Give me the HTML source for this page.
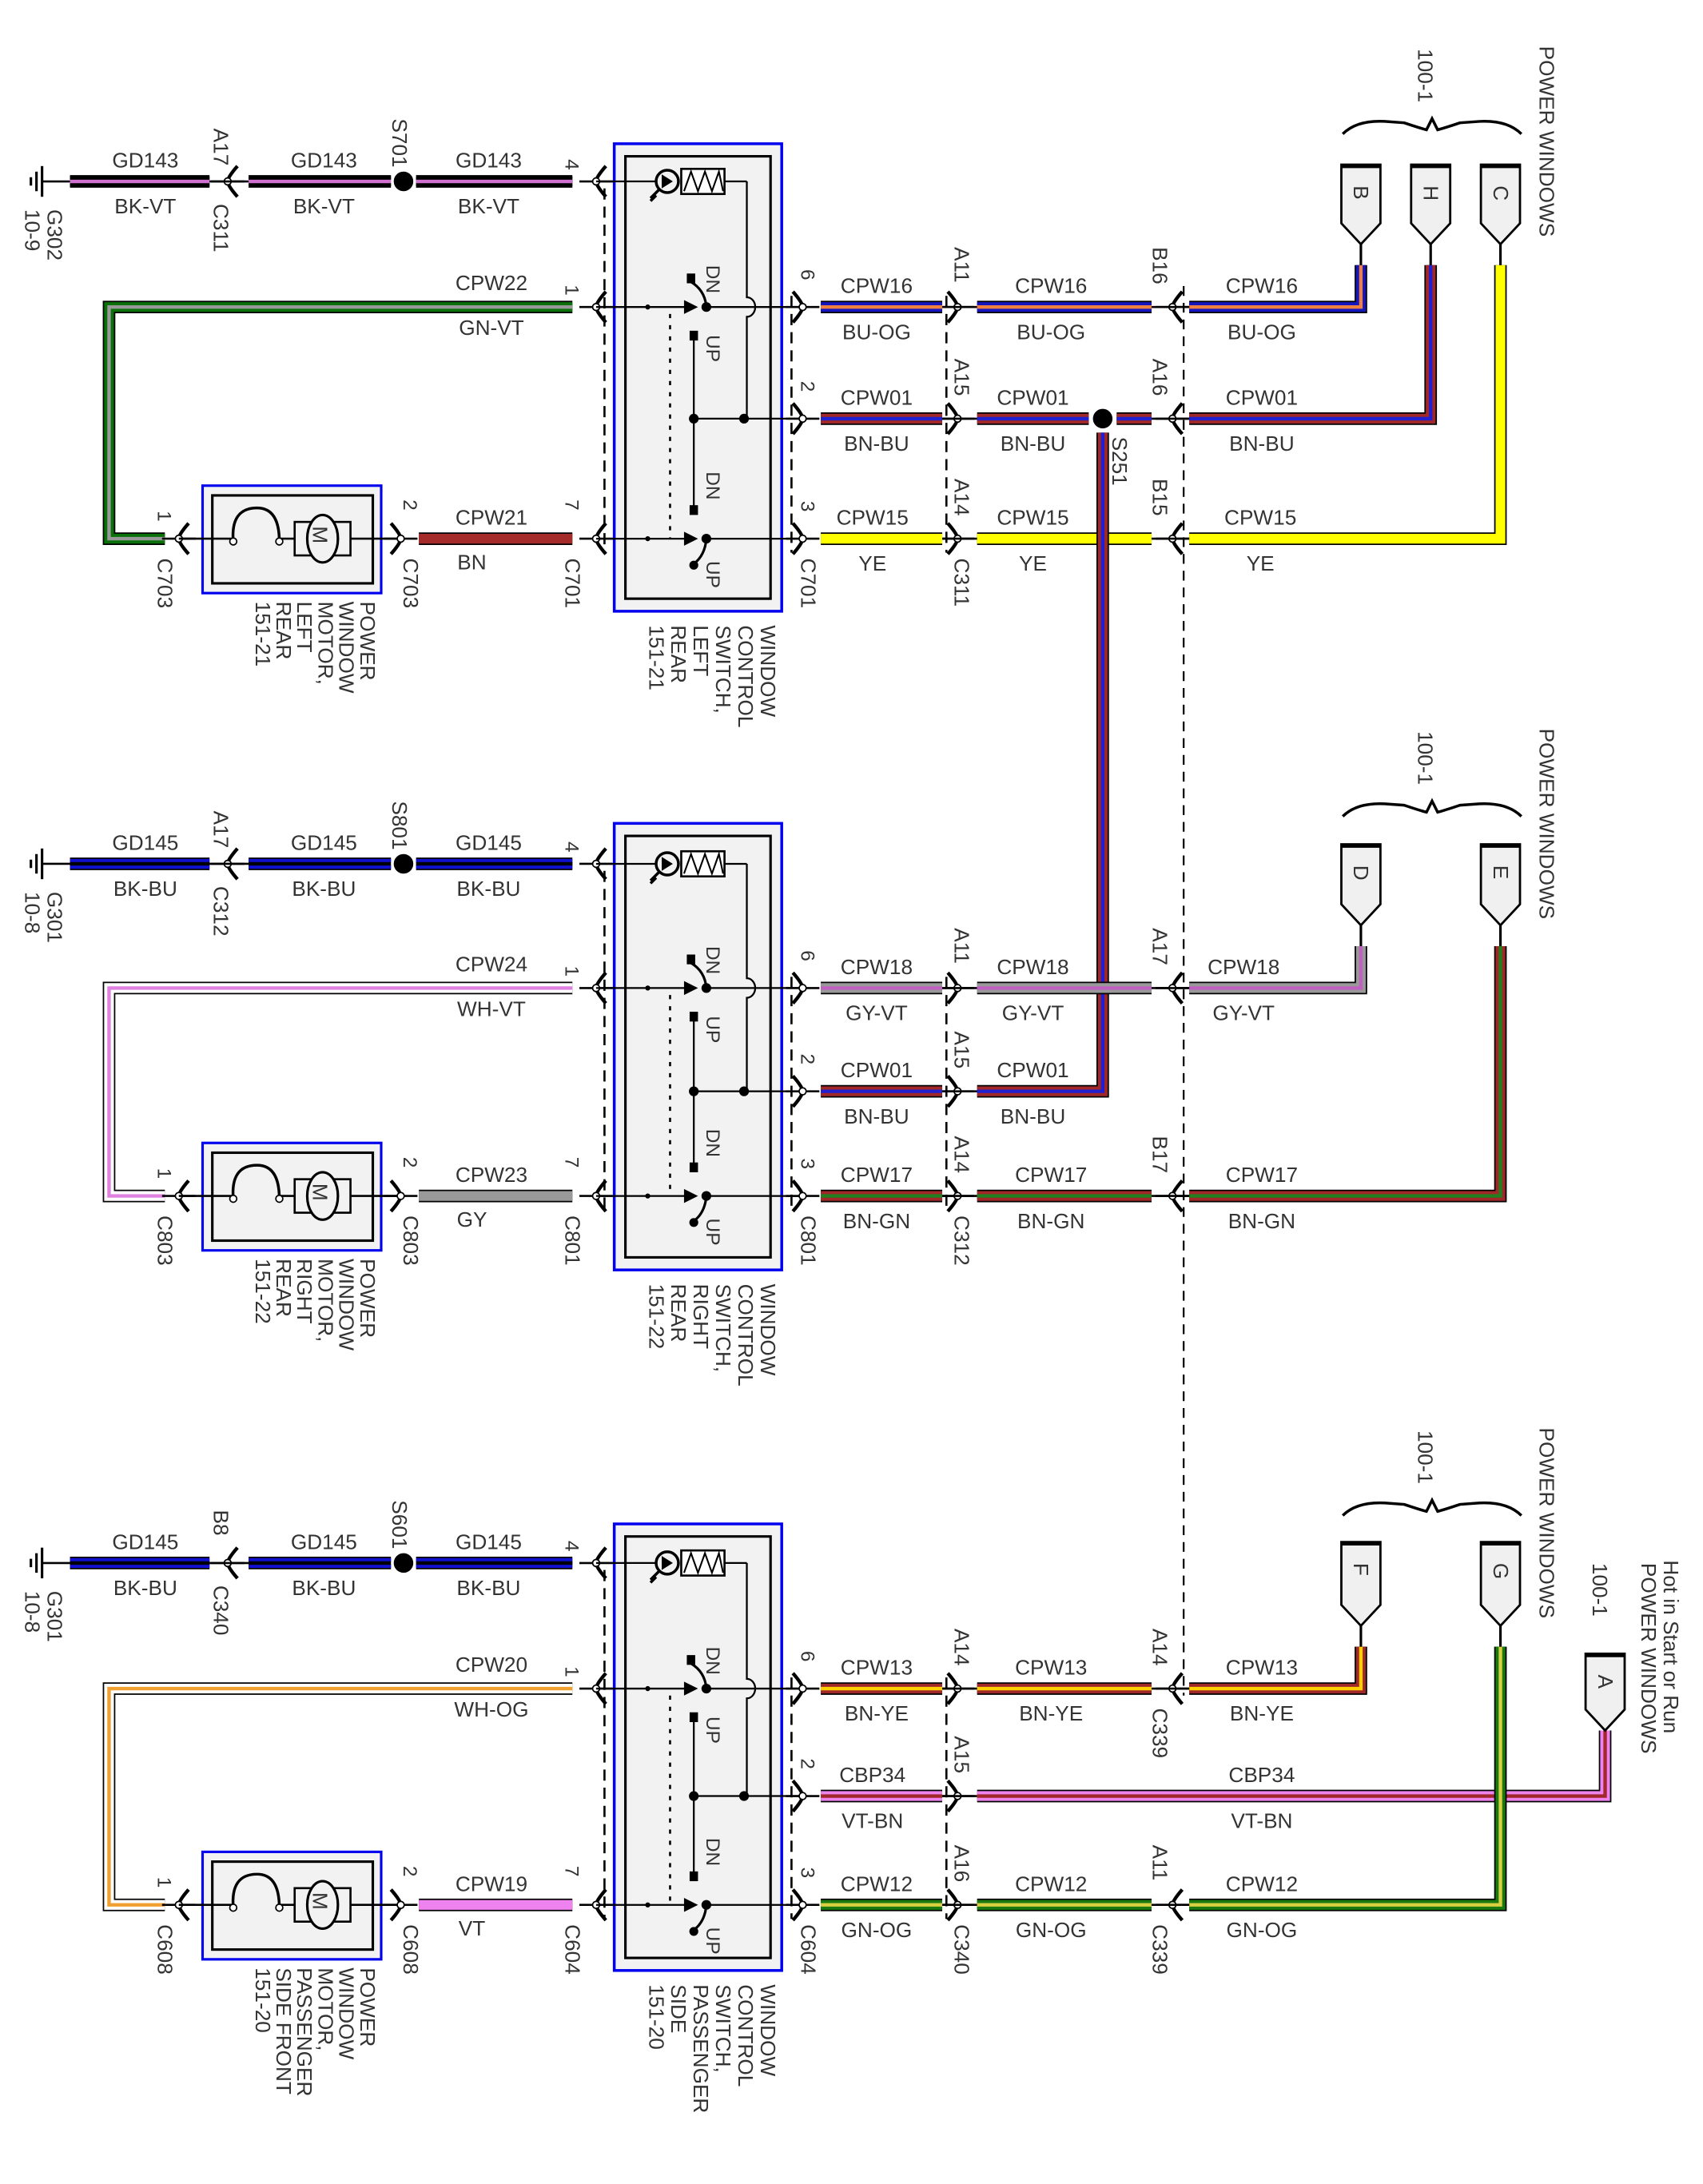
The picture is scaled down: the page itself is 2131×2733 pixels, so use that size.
<!DOCTYPE html>
<html><head><meta charset="utf-8">
<style>
html,body{margin:0;padding:0;background:#fff;}
svg{display:block;}
text{font-family:"Liberation Sans",sans-serif;fill:#333;}
</style></head>
<body>
<svg id="s" xmlns="http://www.w3.org/2000/svg" width="2131" height="2733" viewBox="0 0 1220 1565"></svg>
<script>
var S=document.getElementById('s');var out='';
function add(x){out+=x;}
function line(x1,y1,x2,y2,w,c,extra){add('<line x1="'+x1+'" y1="'+y1+'" x2="'+x2+'" y2="'+y2+'" stroke="'+(c||'#000')+'" stroke-width="'+(w||1.5)+'" '+(extra||'')+'/>');}
function txt(x,y,t,sz,anchor){add('<text x="'+x+'" y="'+y+'" font-size="'+(sz||15)+'" text-anchor="'+(anchor||'middle')+'">'+t+'</text>');}
function rtxt(x,y,t,sz){add('<text x="'+x+'" y="'+y+'" font-size="'+(sz||15)+'" transform="rotate(90 '+x+' '+y+')">'+t+'</text>');}
function wire(pts,main,stripe,outline){
 var p=pts.map(function(a){return a[0]+','+a[1]}).join(' ');
 add('<polyline points="'+p+'" fill="none" stroke="#000" stroke-width="9" stroke-linejoin="miter"/>');
 add('<polyline points="'+p+'" fill="none" stroke="'+main+'" stroke-width="7" stroke-linejoin="miter"/>');
 if(stripe)add('<polyline points="'+p+'" fill="none" stroke="'+stripe+'" stroke-width="2.5" stroke-linejoin="miter"/>');
}
function conn(x,y,dir){ // dir -1: vertex left, 1: vertex right
 var d=dir<0?7:-7;
 line(x-12,y,x+12,y,1.5);
 add('<path d="M'+(x+d)+' '+(y-11)+' Q'+(x)+' '+(y-3)+' '+x+' '+y+' Q'+x+' '+(y+3)+' '+(x+d)+' '+(y+11)+'" fill="none" stroke="#000" stroke-width="2.5"/>');
 add('<circle cx="'+x+'" cy="'+y+'" r="2.5" fill="#fff" stroke="#000" stroke-width="1"/>');
}
function dot(x,y,r){add('<circle cx="'+x+'" cy="'+y+'" r="'+(r||3)+'" fill="#000"/>');}
function ground(x,y,l1,l2){
 line(x,y,x+20,y,1.5);
 line(x,y-11,x,y+11,1.8);line(x-4,y-7,x-4,y+7,1.8);line(x-8,y-3,x-8,y+3,1.8);
 rtxt(x+4,y+20,l1,15);rtxt(x-12,y+20,l2,15);
}
function plug(x,top,bot,letter,wbot){
 var b=bot;
 add('<path d="M'+(x-14)+' '+top+' L'+(x+14)+' '+top+' L'+(x+14)+' '+(b-15)+' L'+x+' '+b+' L'+(x-14)+' '+(b-15)+' Z" fill="#f0f0f0" stroke="#000" stroke-width="1.6"/>');
 line(x-14,top+1,x+14,top+1,3);
 rtxt(x-5,top+15,letter,15);
 line(x,b,x,wbot,1.8);
}
function brace(x1,x2,y){
 var m=(x1+x2)/2;
 add('<path d="M'+x1+' '+(y+4)+' Q'+(x1+10)+' '+(y-6)+' '+(x1+30)+' '+(y-5)+' L'+(m-20)+' '+(y-4)+' Q'+(m-8)+' '+(y)+' '+(m-4)+' '+(y+1)+' L'+m+' '+(y-7)+' L'+(m+4)+' '+(y+1)+' Q'+(m+8)+' '+y+' '+(m+20)+' '+(y-4)+' L'+(x2-30)+' '+(y-5)+' Q'+(x2-10)+' '+(y-6)+' '+x2+' '+(y+4)+'" fill="none" stroke="#000" stroke-width="2"/>');
}
function labels(cx,y,name,col){txt(cx,y-10,name,15);txt(cx,y+23,col,15);}

function section(o){
 var g=o.g,r1=o.r[0],r2=o.r[1],r3=o.r[2];
 // ground & left wires
 ground(30,g,o.gl[0],o.gl[1]);
 wire([[50,g],[150,g]],o.gw[0],o.gw[1]);
 conn(163,g,-1);line(150,g,178,g,1.5);
 wire([[178,g],[280,g]],o.gw[0],o.gw[1]);
 wire([[298,g],[410,g]],o.gw[0],o.gw[1]);
 add('<circle cx="289" cy="'+g+'" r="8" fill="#000" stroke="#fff" stroke-width="2"/>');
 labels(104,g,o.gn,o.gc);labels(232,g,o.gn,o.gc);labels(350,g,o.gn,o.gc);
 rtxt(153,g-38,o.c1[0],15);rtxt(153,g+16,o.c1[1],15);
 rtxt(281,g-45,o.sp,15);
 rtxt(405,g-16,'4',14);
 conn(427,g,-1);
 // loop wire
 wire([[410,r1],[78,r1],[78,r3],[118,r3]],o.lw[0],o.lw[1]);
 txt(352,r1-12,o.ln,15);txt(352,r1+20,o.lc,15);
 rtxt(405,r1-16,'1',14);conn(427,r1,-1);
 conn(128,r3,-1);rtxt(113,r3-20,'1',14);rtxt(113,r3+14,o.mc,15);
 // motor
 add('<rect x="145" y="'+(r3-38)+'" width="128" height="77" fill="#f2f2f2" stroke="#0000ee" stroke-width="1.8"/>');
 add('<rect x="152" y="'+(r3-31)+'" width="115" height="63" fill="none" stroke="#000" stroke-width="1.8"/>');
 line(128,r3,287,r3,1.5);
 add('<path d="M167 '+(r3+2)+' Q165 '+(r3-22)+' 184 '+(r3-22)+' Q200 '+(r3-22)+' 200 '+(r3+2)+'" fill="#f2f2f2" stroke="#000" stroke-width="2"/>');
 add('<circle cx="167" cy="'+(r3+2)+'" r="2.5" fill="#fff" stroke="#000"/>');add('<circle cx="200" cy="'+(r3+2)+'" r="2.5" fill="#fff" stroke="#000"/>');
 add('<rect x="211" y="'+(r3-12)+'" width="40" height="24" fill="#f2f2f2" stroke="#000" stroke-width="1.5"/>');
 add('<ellipse cx="231" cy="'+r3+'" rx="11" ry="17" fill="#f2f2f2" stroke="#000" stroke-width="1.8"/>');
 rtxt(224,r3-9,'M',15);
 conn(287,r3,1);rtxt(289,r3-28,'2',14);rtxt(289,r3+14,o.mc,15);
 wire([[300,r3],[410,r3]],o.mw[0],o.mw[1]);
 txt(352,r3-10,o.mn,15);txt(338,r3+22,o.mcol,15);
 rtxt(405,r3-28,'7',14);rtxt(405,r3+14,o.sc,15);
 conn(427,r3,-1);
 // motor labels
 for(var i=0;i<o.ml.length;i++)rtxt(258-15*i,r3+45,o.ml[i],15);
 // switch
 var bt=o.box[0],bb=o.box[1];
 add('<rect x="440" y="'+bt+'" width="120" height="'+(bb-bt)+'" fill="#f2f2f2" stroke="#0000ee" stroke-width="2"/>');
 add('<rect x="448" y="'+(bt+9)+'" width="104" height="'+(bb-bt-18)+'" fill="none" stroke="#000" stroke-width="1.8"/>');
 line(433,g+5,433,r3+10,1.5,'#000','stroke-dasharray="8,5"');
 line(567,r1-8,567,r3+10,1.5,'#000','stroke-dasharray="8,5"');
 // relay symbol
 line(427,g,470,g,1.3);
 add('<circle cx="478" cy="'+g+'" r="8" fill="none" stroke="#000" stroke-width="2"/>');
 add('<path d="M472 '+(g+6)+' L466 '+(g+12)+' M470 '+(g+10)+' L466 '+(g+14)+'" stroke="#000" stroke-width="2"/>');
 add('<path d="M474 '+(g-5)+' L482 '+g+' L474 '+(g+5)+' Z" fill="#000"/>');
 add('<rect x="488" y="'+(g-9)+'" width="31" height="18" fill="#fff" stroke="#000" stroke-width="1.5"/>');
 add('<path d="M490 '+(g+7)+' L495 '+(g-7)+' L500 '+(g+7)+' L505 '+(g-7)+' L510 '+(g+7)+' L515 '+(g-7)+' L518 '+(g+7)+'" fill="none" stroke="#000" stroke-width="1.2"/>');
 line(519,g,535,g,1.3);
 add('<path d="M535 '+g+' L535 '+(r1-7)+' A6 7 0 0 1 535 '+(r1+7)+' L535 '+r2+'" fill="none" stroke="#000" stroke-width="1.3"/>');
 // row1 switch
 line(427,r1,495,r1,1.3);dot(464,r1,1.8);
 add('<path d="M490 '+(r1-5)+' L500 '+r1+' L490 '+(r1+5)+' Z" fill="#000"/>');
 dot(506,r1,3.5);add('<path d="M506 '+r1+' Q505 '+(r1-12)+' 495 '+(r1-18)+'" fill="none" stroke="#000" stroke-width="1.8"/>');
 add('<rect x="492" y="'+(r1-24)+'" width="6" height="7" fill="#000"/>');
 rtxt(506,r1-30,'DN',14);
 line(506,r1,575,r1,1.3);
 // up contact column
 add('<rect x="494" y="'+(r1+17)+'" width="6" height="7" fill="#000"/>');
 rtxt(506,r1+20,'UP',14);
 line(497,r1+20,497,r3-18,1.3);
 add('<rect x="494" y="'+(r3-24)+'" width="6" height="7" fill="#000"/>');
 rtxt(506,r3-48,'DN',14);
 dot(497,r2,3.5);dot(533,r2,3.5);line(497,r2,575,r2,1.3);
 line(480,r1+5,480,r3,1.5,'#000','stroke-dasharray="3,5"');
 // row3 switch
 line(427,r3,495,r3,1.3);dot(464,r3,1.8);
 add('<path d="M490 '+(r3-5)+' L500 '+r3+' L490 '+(r3+5)+' Z" fill="#000"/>');
 dot(506,r3,3.5);add('<path d="M506 '+r3+' Q505 '+(r3+12)+' 497 '+(r3+18)+'" fill="none" stroke="#000" stroke-width="1.8"/>');
 dot(497,r3+19,3.2);
 rtxt(506,r3+16,'UP',14);
 line(506,r3,575,r3,1.3);
 for(var i=0;i<o.sl.length;i++)rtxt(545-16*i,bb+10,o.sl[i],15);
 // right connectors at 575
 var pins=['6','2','3'];
 for(var k=0;k<3;k++){conn(575,o.r[k],1);rtxt(574,o.r[k]-27,pins[k],14);}
 rtxt(574,r3+14,o.sc,15);
 // mid connectors at 686
 for(var k=0;k<3;k++){conn(686,o.r[k],1);line(675,o.r[k],700,o.r[k],1.5);rtxt(684,o.r[k]-43,o.m1[k],15);}
 rtxt(684,r3+14,o.m1c,15);
 // right wires
 o.rw.forEach(function(w){wire(w.p,w.c[0],w.c[1]);});
 o.rl.forEach(function(l){labels(l[0],l[1],l[2],l[3]);});
 o.c2.forEach(function(c){conn(840,c[0],-1);line(825,c[0],852,c[0],1.5);rtxt(826,c[0]-43,c[1],15);if(c[2])rtxt(826,c[0]+14,c[2],15);});
 line(678,r1-8,678,r3+10,1.5,'#000','stroke-dasharray="8,5"');
 o.plugs.forEach(function(p){plug(p[0],p[1],p[2],p[3],p[4]);});
 brace(962,1090,o.g-38);
 rtxt(1016,o.g-95,'100-1',15);
 rtxt(1103,o.g-97,'POWER WINDOWS',15);
}
var BKVT=['#000','#d070d0'],BKBU=['#1010d0','#000'];
section({g:130,r:[220,300,386],box:[103,438],gl:['G302','10-9'],gw:BKVT,gn:'GD143',gc:'BK-VT',c1:['A17','C311'],sp:'S701',
 lw:['#0a700a','#999'],ln:'CPW22',lc:'GN-VT',mc:'C703',mw:['#a52a2a'],mn:'CPW21',mcol:'BN',sc:'C701',
 ml:['POWER','WINDOW','MOTOR,','LEFT','REAR','151-21'],sl:['WINDOW','CONTROL','SWITCH,','LEFT','REAR','151-21'],
 m1:['A11','A15','A14'],m1c:'C311',
 rw:[{p:[[588,220],[675,220]],c:['#1515c0','#f08040']},{p:[[700,220],[825,220]],c:['#1515c0','#f08040']},{p:[[852,220],[975,220],[975,190]],c:['#1515c0','#f08040']},
  {p:[[588,300],[675,300]],c:['#a02828','#2020d0']},{p:[[700,300],[780,300]],c:['#a02828','#2020d0']},{p:[[800,300],[825,300]],c:['#a02828','#2020d0']},{p:[[852,300],[1025,300],[1025,190]],c:['#a02828','#2020d0']},
  {p:[[588,386],[675,386]],c:['#ffff00']},{p:[[700,386],[825,386]],c:['#ffff00']},{p:[[852,386],[1075,386],[1075,190]],c:['#ffff00']},
  {p:[[790,310],[790,782],[700,782]],c:['#a02828','#2020d0']}],
 rl:[[628,220,'CPW16','BU-OG'],[753,220,'CPW16','BU-OG'],[904,220,'CPW16','BU-OG'],[628,300,'CPW01','BN-BU'],[740,300,'CPW01','BN-BU'],[904,300,'CPW01','BN-BU'],[625,386,'CPW15','YE'],[740,386,'CPW15','YE'],[903,386,'CPW15','YE']],
 c2:[[220,'B16'],[300,'A16'],[386,'B15']],
 plugs:[[975,118,175,'B',190],[1025,118,175,'H',190],[1075,118,175,'C',190]]});
section({g:619,r:[708,782,857],box:[590,910],gl:['G301','10-8'],gw:BKBU,gn:'GD145',gc:'BK-BU',c1:['A17','C312'],sp:'S801',
 lw:['#fff','#e080e0'],ln:'CPW24',lc:'WH-VT',mc:'C803',mw:['#999'],mn:'CPW23',mcol:'GY',sc:'C801',
 ml:['POWER','WINDOW','MOTOR,','RIGHT','REAR','151-22'],sl:['WINDOW','CONTROL','SWITCH,','RIGHT','REAR','151-22'],
 m1:['A11','A15','A14'],m1c:'C312',
 rw:[{p:[[588,708],[675,708]],c:['#999','#c060c0']},{p:[[700,708],[825,708]],c:['#999','#c060c0']},{p:[[852,708],[975,708],[975,678]],c:['#999','#c060c0']},
  {p:[[588,782],[675,782]],c:['#a02828','#2020d0']},
  {p:[[588,857],[675,857]],c:['#a02828','#208020']},{p:[[700,857],[825,857]],c:['#a02828','#208020']},{p:[[852,857],[1075,857],[1075,678]],c:['#a02828','#208020']}],
 rl:[[628,708,'CPW18','GY-VT'],[740,708,'CPW18','GY-VT'],[891,708,'CPW18','GY-VT'],[628,782,'CPW01','BN-BU'],[740,782,'CPW01','BN-BU'],[628,857,'CPW17','BN-GN'],[753,857,'CPW17','BN-GN'],[904,857,'CPW17','BN-GN']],
 c2:[[708,'A17'],[857,'B17']],
 plugs:[[975,605,663,'D',678],[1075,605,663,'E',678]]});
section({g:1120,r:[1210,1287,1365],box:[1092,1412],gl:['G301','10-8'],gw:BKBU,gn:'GD145',gc:'BK-BU',c1:['B8','C340'],sp:'S601',
 lw:['#fff','#f0a030'],ln:'CPW20',lc:'WH-OG',mc:'C608',mw:['#ee82ee'],mn:'CPW19',mcol:'VT',sc:'C604',
 ml:['POWER','WINDOW','MOTOR,','PASSENGER','SIDE FRONT','151-20'],sl:['WINDOW','CONTROL','SWITCH,','PASSENGER','SIDE','151-20'],
 m1:['A14','A15','A16'],m1c:'C340',
 rw:[{p:[[588,1210],[675,1210]],c:['#a02828','#ffd000']},{p:[[700,1210],[825,1210]],c:['#a02828','#ffd000']},{p:[[852,1210],[975,1210],[975,1180]],c:['#a02828','#ffd000']},
  {p:[[588,1287],[675,1287]],c:['#ee82ee','#a02828']},{p:[[700,1287],[1150,1287],[1150,1240]],c:['#ee82ee','#a02828']},
  {p:[[588,1365],[675,1365]],c:['#1a7a10','#d8d040']},{p:[[700,1365],[825,1365]],c:['#1a7a10','#d8d040']},{p:[[852,1365],[1075,1365],[1075,1180]],c:['#1a7a10','#d8d040']}],
 rl:[[628,1210,'CPW13','BN-YE'],[753,1210,'CPW13','BN-YE'],[904,1210,'CPW13','BN-YE'],[625,1287,'CBP34','VT-BN'],[904,1287,'CBP34','VT-BN'],[628,1365,'CPW12','GN-OG'],[753,1365,'CPW12','GN-OG'],[904,1365,'CPW12','GN-OG']],
 c2:[[1210,'A14','C339'],[1365,'A11','C339']],
 plugs:[[975,1105,1165,'F',1180],[1075,1105,1165,'G',1180]]});
// long dashed line
line(848,205,848,1215,1.3,'#000','stroke-dasharray="7,5"');
add('<circle cx="790" cy="300" r="8" fill="#000" stroke="#fff" stroke-width="2"/>');
rtxt(797,313,'S251',15);
plug(1150,1185,1240,'A',1240);
rtxt(1141,1120,'100-1',15);
rtxt(1176,1120,'POWER WINDOWS',15);
rtxt(1192,1118,'Hot in Start or Run',15);
S.innerHTML=out;
</script>
</body></html>
